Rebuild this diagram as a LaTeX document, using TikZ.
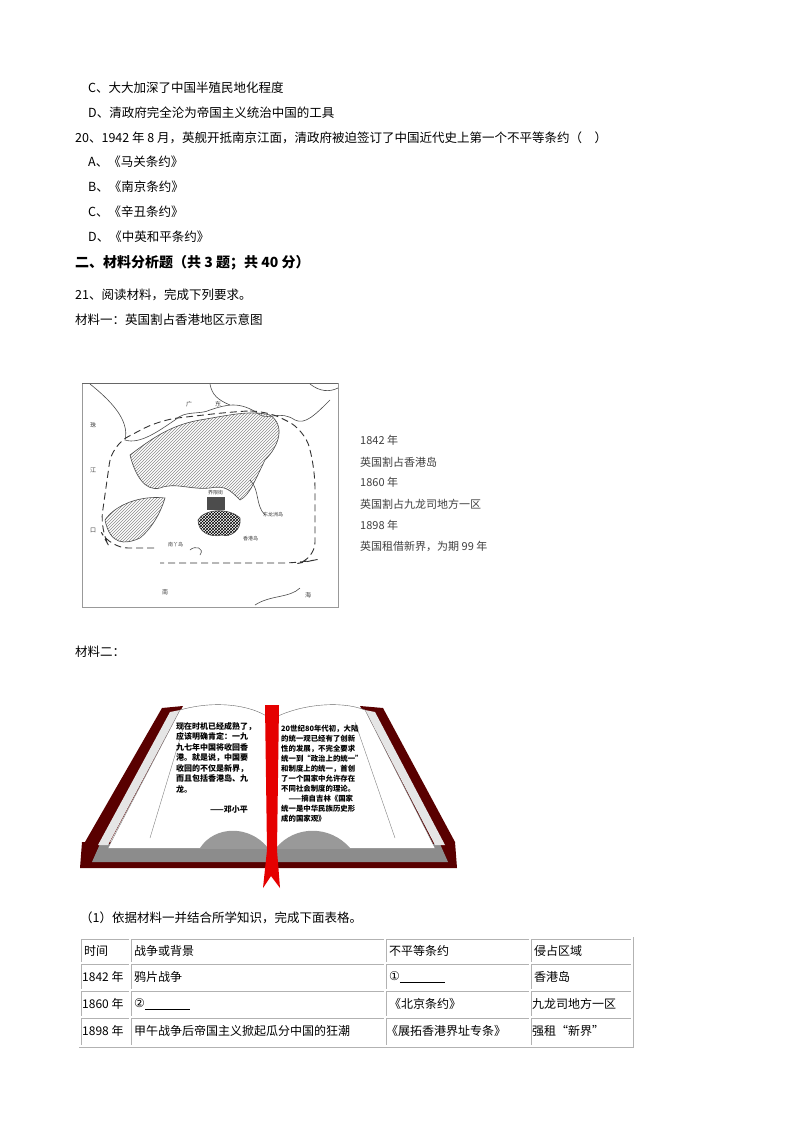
\documentclass[tikz,border=0pt]{standalone}
\usepackage{fontspec}
\setmainfont{Liberation Serif}
\newfontfamily\cjk{Noto Sans CJK SC}
\usetikzlibrary{patterns}
\begin{document}
\begin{tikzpicture}[x=1pt,y=-1pt,
  txt/.style={anchor=west,inner sep=0pt,font=\cjk\fontsize{12.5}{14}\selectfont},
  mtxt/.style={anchor=west,inner sep=0pt,font=\cjk\fontsize{11}{12}\selectfont,text=black!75},
  btxt/.style={anchor=north west,inner sep=0pt,font=\cjk\bfseries\fontsize{8}{10.5}\selectfont,align=left},
  cell/.style={anchor=west,inner sep=0pt,font=\cjk\fontsize{12}{14}\selectfont},
  coast/.style={black!70,line width=0.6pt},
  tline/.style={black!30,line width=3pt},
  tin/.style={white,line width=1.2pt}]
\useasboundingbox (0,0) rectangle (800,1132);
\fill[white] (0,0) rectangle (800,1132);
% questions
\node[txt] (c) at (88,88) {C、大大加深了中国半殖民地化程度};
\node[txt] (d) at (88,113) {D、清政府完全沦为帝国主义统治中国的工具};
\node[txt] (q20) at (75,138) {20、1942 年 8 月，英舰开抵南京江面，清政府被迫签订了中国近代史上第一个不平等条约（\quad ）};
\node[txt] (a1) at (88,162) {A、《马关条约》};
\node[txt] (b1) at (88,187) {B、《南京条约》};
\node[txt] (c1) at (88,212) {C、《辛丑条约》};
\node[txt] (d1) at (88,237) {D、《中英和平条约》};
\node[txt,font=\cjk\bfseries\fontsize{14}{16}\selectfont] (h2) at (75,263) {二、材料分析题（共 3 题；共 40 分）};
\node[txt] (q21) at (75,295) {21、阅读材料，完成下列要求。};
\node[txt] (m1) at (75,320) {材料一：英国割占香港地区示意图};
% map
\draw[black!40] (82,383) -- (338,383) -- (338,607) -- (82,607) -- cycle;
\draw[black!60,line width=0.8pt] (82,383) -- (338,383);
\draw[coast] (90,384) .. controls (110,400) and (130,420) .. (125,440) .. controls (140,445) and (160,430) .. (175,420) .. controls (185,410) and (200,415) .. (210,410) .. controls (225,405) and (240,400) .. (260,415) .. controls (270,420) and (280,410) .. (295,420) .. controls (305,425) and (315,415) .. (330,400);
\draw[coast] (210,384) .. controls (212,395) and (218,400) .. (230,405);
\draw[coast] (310,384) .. controls (320,392) and (330,392) .. (338,388);
\fill[pattern=north east lines,pattern color=black!45] (130,455) .. controls (150,440) and (170,425) .. (200,420) .. controls (230,415) and (250,410) .. (270,415) .. controls (285,425) and (280,445) .. (265,460) .. controls (255,480) and (250,495) .. (240,500) .. controls (230,490) and (225,485) .. (210,488) .. controls (190,490) and (175,482) .. (160,488) .. controls (145,492) and (135,475) .. (130,455) -- cycle;
\draw[coast] (130,455) .. controls (150,440) and (170,425) .. (200,420) .. controls (230,415) and (250,410) .. (270,415) .. controls (285,425) and (280,445) .. (265,460) .. controls (255,480) and (250,495) .. (240,500) .. controls (230,490) and (225,485) .. (210,488) .. controls (190,490) and (175,482) .. (160,488) .. controls (145,492) and (135,475) .. (130,455) -- cycle;
\fill[pattern=north east lines,pattern color=black!45] (105,520) .. controls (115,505) and (140,495) .. (165,498) .. controls (160,515) and (150,530) .. (140,538) .. controls (125,545) and (110,545) .. (105,520) -- cycle;
\draw[coast] (105,520) .. controls (115,505) and (140,495) .. (165,498) .. controls (160,515) and (150,530) .. (140,538) .. controls (125,545) and (110,545) .. (105,520) -- cycle;
\fill[black!70] (207,497) rectangle (225,510);
\fill[pattern=crosshatch,pattern color=black] (198,520) .. controls (205,508) and (230,508) .. (240,518) .. controls (242,530) and (230,538) .. (222,535) .. controls (210,538) and (198,532) .. (198,520) -- cycle;
\draw[coast] (198,520) .. controls (205,508) and (230,508) .. (240,518) .. controls (242,530) and (230,538) .. (222,535) .. controls (210,538) and (198,532) .. (198,520) -- cycle;
\draw[coast] (250,480) .. controls (260,490) and (255,505) .. (265,515);
\draw[coast] (190,550) .. controls (195,545) and (205,548) .. (200,555);
\draw[coast] (255,605) .. controls (270,595) and (290,598) .. (300,588);
\draw[black!80,line width=0.9pt,dash pattern=on 7pt off 4pt,rounded corners=18pt] (154,548) -- (110,548) -- (100,530) -- (112,445) -- (160,420) -- (230,412) -- (265,410) -- (305,430) -- (315,470) -- (315,560) -- (300,563) -- (160,563);
\node[mtxt,font=\cjk\fontsize{6}{7}\selectfont] (m_g) at (186,404) {广};
\node[mtxt,font=\cjk\fontsize{6}{7}\selectfont] (m_d) at (215,404) {东};
\node[mtxt,font=\cjk\fontsize{6}{7}\selectfont] (m_z) at (90,425) {珠};
\node[mtxt,font=\cjk\fontsize{6}{7}\selectfont] (m_j) at (90,470) {江};
\node[mtxt,font=\cjk\fontsize{6}{7}\selectfont] (m_k) at (90,530) {口};
\node[mtxt,font=\cjk\fontsize{5}{6}\selectfont] (m_s) at (208,493) {界限街};
\node[mtxt,font=\cjk\fontsize{5}{6}\selectfont] (m_x) at (243,539) {香港岛};
\node[mtxt,font=\cjk\fontsize{5}{6}\selectfont] (m_h) at (263,515) {东龙洲岛};
\node[mtxt,font=\cjk\fontsize{5}{6}\selectfont] (m_n) at (168,545) {南丫岛};
\node[mtxt,font=\cjk\fontsize{6}{7}\selectfont] (m_nan) at (162,592) {南};
\node[mtxt,font=\cjk\fontsize{6}{7}\selectfont] (m_hai) at (305,595) {海};
\node[mtxt] (t1) at (360,440) {1842 年};
\node[mtxt] (t2) at (360,462) {英国割占香港岛};
\node[mtxt] (t3) at (360,482) {1860 年};
\node[mtxt] (t4) at (360,504) {英国割占九龙司地方一区};
\node[mtxt] (t5) at (360,525) {1898 年};
\node[mtxt] (t6) at (360,546) {英国租借新界，为期 99 年};
\node[txt] (m2) at (75,652) {材料二：};
% book
\fill[red!35!black] (162,708) -- (183,706) -- (110,842) -- (85,842) -- cycle;
\fill[red!35!black] (360,706) -- (383,708) -- (455,842) -- (430,842) -- cycle;
\fill[red!35!black] (82,842) -- (455,842) -- (457,868) -- (80,868) -- cycle;
\fill[black!45] (100,844) -- (440,844) -- (448,862) -- (92,862) -- cycle;
\fill[black!10] (170,712) -- (180,710) -- (108,845) -- (98,845) -- cycle;
\fill[black!10] (365,710) -- (375,712) -- (445,845) -- (435,845) -- cycle;
\fill[white] (180,710) .. controls (215,700) and (250,705) .. (268,717) -- (268,848) -- (108,848) -- cycle;
\fill[white] (276,717) .. controls (300,705) and (340,700) .. (365,710) -- (435,848) -- (276,848) -- cycle;
\draw[black!60] (180,710) .. controls (215,700) and (250,705) .. (268,717);
\draw[black!60] (276,717) .. controls (300,705) and (340,700) .. (365,710);
\draw[black!50] (180,710) -- (108,848);
\draw[black!50] (365,710) -- (435,848);
\draw[black!50] (185,722) -- (150,838);
\draw[black!50] (355,722) -- (395,838);
\fill[black!40] (200,848) .. controls (215,825) and (250,825) .. (268,848) -- cycle;
\fill[black!40] (276,848) .. controls (295,825) and (330,825) .. (350,848) -- cycle;
\fill[red!90!black] (265,705) -- (279,705) -- (277,850) -- (280,888) -- (271,876) -- (263,888) -- (267,850) -- cycle;
\node[btxt] (lp) at (176,722) {现在时机已经成熟了，\\应该明确肯定：一九\\九七年中国将收回香\\港。就是说，中国要\\收回的不仅是新界，\\而且包括香港岛、九\\龙。};
\node[btxt] (lp2) at (210,806) {——邓小平};
\node[btxt,font=\cjk\bfseries\fontsize{7.4}{10}\selectfont] (rp) at (281,725) {20世纪80年代初，大陆\\的统一观已经有了创新\\性的发展，不完全要求\\统一到“政治上的统一”\\和制度上的统一，首创\\了一个国家中允许存在\\不同社会制度的理论。\\\quad ——摘自吉林《国家\\统一是中华民族历史形\\成的国家观》};
\node[txt] (q1) at (80,918) {（1）依据材料一并结合所学知识，完成下面表格。};
% table
\draw[tline] (80,938) rectangle (632,1046);
\foreach \yy in {963,990,1017} \draw[tline] (80,\yy) -- (632,\yy);
\foreach \xx in {130,385,530} \draw[tline] (\xx,938) -- (\xx,1046);
\draw[tin] (80,938) rectangle (632,1046);
\foreach \yy in {963,990,1017} \draw[tin] (80,\yy) -- (632,\yy);
\foreach \xx in {130,385,530} \draw[tin] (\xx,938) -- (\xx,1046);
\node[cell] (r0a) at (84,951) {时间};
\node[cell] (r0b) at (134,951) {战争或背景};
\node[cell] (r0c) at (389,951) {不平等条约};
\node[cell] (r0d) at (534,951) {侵占区域};
\node[cell] (r1a) at (82,977) {1842 年};
\node[cell] (r1b) at (134,977) {鸦片战争};
\node[cell] (r1c) at (389,977) {{\fontspec{DejaVu Sans}①}\underline{\hspace{45pt}}};
\node[cell] (r1d) at (534,977) {香港岛};
\node[cell] (r2a) at (82,1004) {1860 年};
\node[cell] (r2b) at (134,1004) {{\fontspec{DejaVu Sans}②}\underline{\hspace{45pt}}};
\node[cell] (r2c) at (389,1004) {《北京条约》};
\node[cell] (r2d) at (532,1004) {九龙司地方一区};
\node[cell] (r3a) at (82,1031) {1898 年};
\node[cell] (r3b) at (134,1031) {甲午战争后帝国主义掀起瓜分中国的狂潮};
\node[cell] (r3c) at (386,1031) {《展拓香港界址专条》};
\node[cell] (r3d) at (532,1031) {强租“新界”};
\end{tikzpicture}
\end{document}
